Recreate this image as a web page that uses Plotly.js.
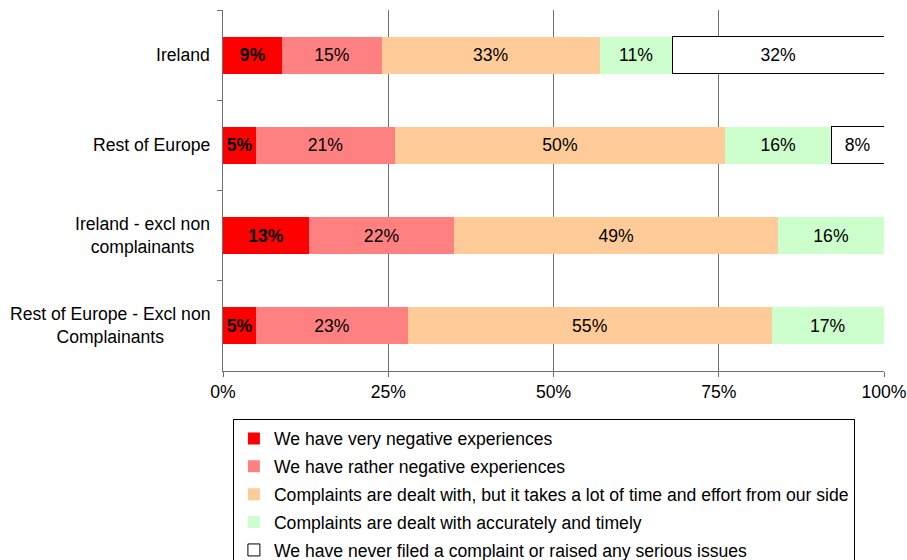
<!DOCTYPE html>
<html><head><meta charset="utf-8">
<script src="https://cdn.plot.ly/plotly-3.0.1.min.js"></script>
<style>body{margin:0;background:#fff}#chart{width:907px;height:560px}</style>
</head><body><div id="chart"></div>
<script>
const categories = ["Ireland", "Rest of Europe", "Ireland - excl non complainants", "Rest of Europe - Excl non Complainants"];
const categoryLabels = ["Ireland", "Rest of Europe", "Ireland - excl non<br>complainants", "Rest of Europe - Excl non<br>Complainants"];
const seriesNames = [
  "We have very negative experiences",
  "We have rather negative experiences",
  "Complaints are dealt with, but it takes a lot of time and effort from our side",
  "Complaints are dealt with accurately and timely",
  "We have never filed a complaint or raised any serious issues"
];
const veryNegative = [9, 5, 13, 5];
const ratherNegative = [15, 21, 22, 23];
const dealtSlow = [33, 50, 49, 55];
const dealtTimely = [11, 16, 16, 17];
const neverFiled = [32, 8, null, null];
const xTicks = [0, 25, 50, 75, 100];

const series = [veryNegative, ratherNegative, dealtSlow, dealtTimely, neverFiled];
const colors = ["#FF0000", "#FF8080", "#FFCC99", "#CCFFCC", "#FFFFFF"];
const FONT = "Arial, 'Liberation Sans', sans-serif";
const FS = 17.6;

const traces = series.map((vals, i) => ({
  type: "bar",
  orientation: "h",
  name: seriesNames[i],
  legendgroup: "g" + i,
  y: categories,
  x: vals,
  text: vals.map(v => v == null ? "" : (i === 0 ? "<b>" + v + "%</b>" : v + "%")),
  textposition: "inside",
  insidetextanchor: "middle",
  textangle: 0,
  constraintext: "none",
  cliponaxis: false,
  insidetextfont: {family: FONT, size: FS, color: "#000"},
  marker: {color: colors[i], line: {color: "#000", width: i === 4 ? 1 : 0}},
  hoverinfo: "skip"
}));

const annotations = categories.map((c, i) => ({
  xref: "paper", yref: "y", x: 0, y: c,
  xanchor: "right", yanchor: "middle", xshift: -11, align: "center",
  text: categoryLabels[i], showarrow: false,
  font: {family: FONT, size: FS, color: "#000"}
}));

const layout = {
  width: 907, height: 560,
  margin: {l: 223, r: 23, t: 10, b: 189, autoexpand: false},
  paper_bgcolor: "#fff", plot_bgcolor: "#fff",
  barmode: "stack",
  bargap: 0.59,
  showlegend: true,
  hovermode: false,
  font: {family: FONT, size: FS, color: "#000"},
  xaxis: {
    range: [0, 100], tickvals: xTicks, ticktext: xTicks.map(v => v + "%"),
    showgrid: true, gridcolor: "#707070", gridwidth: 1,
    showline: true, linecolor: "#707070", linewidth: 1,
    ticks: "outside", ticklen: 5, tickcolor: "#707070",
    zeroline: false, fixedrange: true,
    tickfont: {family: FONT, size: FS, color: "#000"}
  },
  yaxis: {
    autorange: "reversed", showticklabels: false,
    showline: true, linecolor: "#707070", linewidth: 1,
    ticks: "outside", tickson: "boundaries", ticklen: 5, tickcolor: "#707070",
    showgrid: false, zeroline: false, fixedrange: true
  },
  legend: {
    orientation: "v", traceorder: "grouped", tracegroupgap: 2,
    x: 0.015, xanchor: "left", y: -0.1343, yanchor: "top",
    bordercolor: "#000", borderwidth: 1, bgcolor: "#fff",
    font: {family: FONT, size: FS, color: "#000"},
    itemclick: false, itemdoubleclick: false
  },
  annotations: annotations
};

Plotly.newPlot("chart", traces, layout, {displayModeBar: false, staticPlot: true});
</script></body></html>
